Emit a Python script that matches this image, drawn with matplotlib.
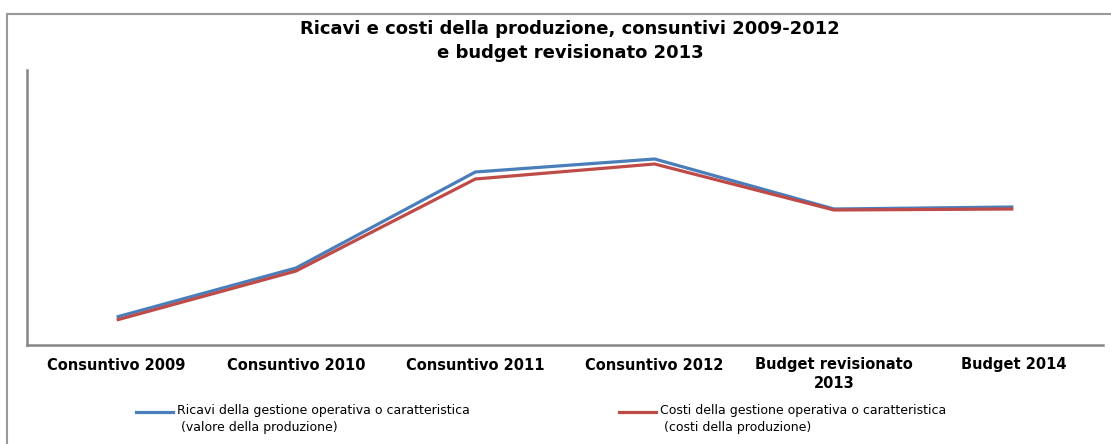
import matplotlib.pyplot as plt
from matplotlib.lines import Line2D
from matplotlib.patches import Rectangle

plt.rcParams['font.family'] = ['DejaVu Sans']

# categorie e valori (scala relativa, asse y senza etichette)
categorie = ['Consuntivo 2009', 'Consuntivo 2010', 'Consuntivo 2011',
             'Consuntivo 2012', 'Budget revisionato\n2013', 'Budget 2014']
ricavi = [28, 77, 173, 186, 136, 138]
costi = [25, 74, 166, 181, 135, 136]
etichette = ['Ricavi della gestione operativa o caratteristica\n (valore della produzione)',
             'Costi della gestione operativa o caratteristica\n (costi della produzione)']
colori = ['#4a7ebb', '#be4b48']

W, H = 1111, 444
fig = plt.figure(figsize=(W / 100, H / 100), dpi=100)

# cornice del grafico
fig.add_artist(Rectangle((7 / W, -0.1), 1.2, 1.1 - 14 / H, transform=fig.transFigure,
                         fill=False, edgecolor='#9a9a9a', linewidth=1.5))

ax = fig.add_axes([27 / W, 1 - 345 / H, (1103 - 27) / W, (345 - 70) / H])
x = range(len(categorie))
ax.plot(x, ricavi, color=colori[0], linewidth=2.3, solid_capstyle='butt')
ax.plot(x, costi, color=colori[1], linewidth=2.3, solid_capstyle='butt')
ax.set_xlim(-0.5, len(categorie) - 0.5)
ax.set_ylim(0, 275)
ax.set_yticks([])
ax.set_xticks(list(x))
ax.set_xticklabels(categorie, fontsize=10.5, fontweight='bold', linespacing=1.3)
ax.tick_params(axis='x', length=0, pad=9)
for s in ['top', 'right']:
    ax.spines[s].set_visible(False)
for s in ['left', 'bottom']:
    ax.spines[s].set_color('#868686')
    ax.spines[s].set_linewidth(1.8)

fig.text(570 / W, 1 - 41 / H, 'Ricavi e costi della produzione, consuntivi 2009-2012\ne budget revisionato 2013',
         ha='center', va='center', fontsize=13, fontweight='bold', linespacing=1.45)

# legenda
for (x0, x1, tx), lab, c in zip([(136, 173, 177), (619, 656, 660)], etichette, colori):
    fig.add_artist(Line2D([x0 / W, x1 / W], [1 - 412 / H] * 2, transform=fig.transFigure,
                          color=c, linewidth=2.3))
    fig.text(tx / W, 1 - 404 / H, lab, ha='left', va='top', fontsize=9, linespacing=1.4)

fig.savefig('out.png', dpi=100)
